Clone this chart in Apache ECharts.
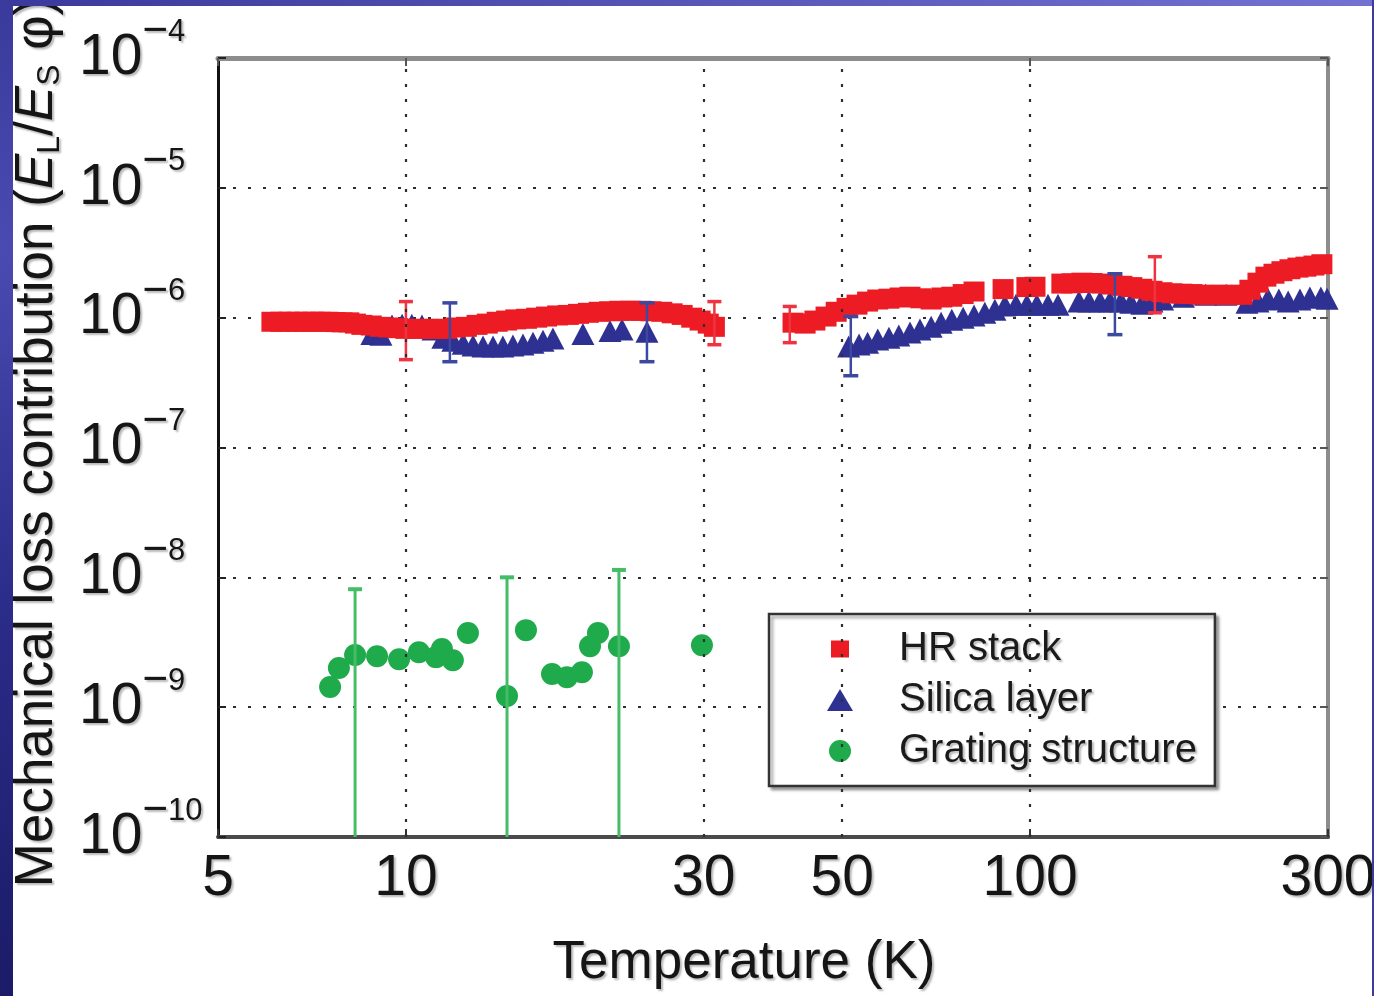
<!DOCTYPE html>
<html><head><meta charset="utf-8">
<script src="https://cdn.jsdelivr.net/npm/echarts@6/dist/echarts.min.js"></script>
<style>
html,body{margin:0;padding:0;background:#fff;overflow:hidden}
#chart{position:absolute;left:0;top:0;width:1374px;height:996px}
#lstrip{position:absolute;left:0;top:0;width:13px;height:996px;background:linear-gradient(to bottom,#3a3a9c 0%,#4a4ab2 25%,#2c2c8a 60%,#1b1b68 100%);z-index:5}
#tstrip{position:absolute;left:0;top:0;width:1374px;height:6px;background:linear-gradient(to right,#3a3a9c,#7272d2);z-index:5}
#rstrip{position:absolute;right:0;top:0;width:2px;height:996px;background:#3b3ba0;z-index:5}
</style></head>
<body>
<div id="chart"></div><div id="lstrip"></div><div id="tstrip"></div><div id="rstrip"></div>
<script>
const FONT = "'Liberation Sans', Arial, Helvetica, sans-serif";
const xTickLabels = [5, 10, 30, 50, 100, 300];
const xGridValues = [10, 30, 50, 100];
const yExponents = [-10, -9, -8, -7, -6, -5, -4];

// HR stack
const hrT = [6.1,6.3,6.5,6.7,6.9,7.1,7.3,7.5,7.7,7.9,8.1,8.3,8.5,8.8,9.1,9.4,9.7,10.0,10.4,10.8,11.2,11.6,12.0,12.5,13.0,13.5,14.0,14.5,15.0,15.6,16.2,16.8,17.5,18.2,18.9,19.6,20.4,21.2,22.0,22.9,23.8,24.7,25.7,26.7,27.7,28.7,29.6,30.5,31.2,
  41.7,43.6,45.2,47.1,48.9,50.9,52.8,54.9,57.0,59.4,61.9,64.2,66.8,69.4,72.2,74.9,78.1,81.3,90.5,98.8,101.8,112.4,116.7,121,125.6,130.3,135.2,140.3,145.5,151,156.7,162.6,168.7,175,181.6,188.4,195.5,202.8,210.5,218.4,224.9,231.7,238.6,245.8,253.1,260.7,268.5,276.5,284.8,293.3];
const hrV = [9.3e-7,9.3e-7,9.3e-7,9.3e-7,9.3e-7,9.3e-7,9.3e-7,9.3e-7,9.25e-7,9.2e-7,9.2e-7,9.0e-7,8.8e-7,8.7e-7,8.5e-7,8.4e-7,8.3e-7,8.2e-7,8.2e-7,8.2e-7,8.2e-7,8.2e-7,8.4e-7,8.5e-7,8.8e-7,9.0e-7,9.3e-7,9.5e-7,9.7e-7,9.8e-7,1.0e-6,1.02e-6,1.04e-6,1.05e-6,1.07e-6,1.09e-6,1.11e-6,1.12e-6,1.13e-6,1.13e-6,1.13e-6,1.12e-6,1.11e-6,1.08e-6,1.05e-6,1.0e-6,9.5e-7,9.0e-7,8.5e-7,
  9.15e-7,9.0e-7,9.5e-7,1.02e-6,1.11e-6,1.19e-6,1.26e-6,1.33e-6,1.38e-6,1.40e-6,1.43e-6,1.45e-6,1.41e-6,1.38e-6,1.43e-6,1.45e-6,1.52e-6,1.59e-6,1.66e-6,1.72e-6,1.73e-6,1.83e-6,1.84e-6,1.86e-6,1.85e-6,1.83e-6,1.80e-6,1.76e-6,1.72e-6,1.67e-6,1.61e-6,1.57e-6,1.54e-6,1.53e-6,1.52e-6,1.50e-6,1.50e-6,1.50e-6,1.50e-6,1.50e-6,1.64e-6,1.86e-6,2.07e-6,2.18e-6,2.28e-6,2.36e-6,2.43e-6,2.47e-6,2.52e-6,2.58e-6];

// Silica layer
const siT = [8.82,9.12,9.50,9.86,10.22,10.61,11.05,11.46,11.89,12.35,12.81,13.29,13.79,14.30,14.84,15.40,15.98,16.58,17.20,19.21,21.23,22.19,24.33,
  51.2,53.2,54.9,57.0,59.4,61.6,64.2,66.6,69.4,72.0,74.9,78.1,81.3,84.6,87.8,91.1,94.9,98.8,102.5,106.8,110.8,119.7,124.2,129.4,134.2,139.8,145,151,156.7,163,176,191,206,222.5,231.7,240.4,250.3,259,270.5,280.6,292.2,299];
const siV = [7.5e-7,7.4e-7,8.7e-7,8.8e-7,8.8e-7,8.7e-7,8.1e-7,7.0e-7,6.65e-7,6.3e-7,6.1e-7,6.0e-7,6.0e-7,6.0e-7,6.1e-7,6.2e-7,6.4e-7,6.65e-7,6.9e-7,7.5e-7,7.9e-7,8.1e-7,7.8e-7,
  6.0e-7,6.2e-7,6.4e-7,6.8e-7,7.0e-7,7.3e-7,7.7e-7,8.1e-7,8.5e-7,9.15e-7,9.65e-7,1.0e-6,1.04e-6,1.09e-6,1.15e-6,1.24e-6,1.26e-6,1.26e-6,1.26e-6,1.26e-6,1.26e-6,1.33e-6,1.33e-6,1.33e-6,1.33e-6,1.33e-6,1.30e-6,1.28e-6,1.33e-6,1.38e-6,1.45e-6,1.50e-6,1.50e-6,1.30e-6,1.33e-6,1.40e-6,1.38e-6,1.33e-6,1.38e-6,1.43e-6,1.43e-6,1.40e-6];

// Grating structure
const grT = [7.56,7.81,8.29,8.99,9.75,10.49,11.17,11.42,11.89,12.57,14.52,15.57,17.14,18.11,19.14,19.72,20.31,21.94,29.8];
const grV = [1.43e-9,2.0e-9,2.52e-9,2.47e-9,2.34e-9,2.65e-9,2.43e-9,2.80e-9,2.30e-9,3.72e-9,1.22e-9,3.92e-9,1.80e-9,1.70e-9,1.86e-9,2.95e-9,3.72e-9,2.95e-9,3.0e-9];

// Error bars
const hrErrT = [10.0, 31.2, 41.2, 158.4];
const hrErrLo = [4.75e-7, 6.19e-7, 6.42e-7, 1.09e-6];
const hrErrHi = [1.33e-6, 1.33e-6, 1.22e-6, 2.95e-6];
const siErrT = [11.76, 24.33, 51.6, 136.7];
const siErrLo = [4.58e-7, 4.58e-7, 3.57e-7, 7.4e-7];
const siErrHi = [1.30e-6, 1.30e-6, 1.02e-6, 2.18e-6];
const grErrT = [8.29, 14.52, 21.94];
const grErrLo = [1e-10, 1e-10, 1e-10];
const grErrHi = [8.1e-9, 1.0e-8, 1.14e-8];

const pairs = (a, b) => a.map((t, i) => [t, b[i]]);
const triples = (a, b, c) => a.map((t, i) => [t, b[i], c[i]]);

const SH = {textShadowColor: 'rgba(0,0,0,0.28)', textShadowOffsetX: 2, textShadowOffsetY: 2, textShadowBlur: 2};
const gridLine = {type: [3, 12], color: '#2e2e2e', width: 2.2};

function errBar(color, cap, lw, lowCap) {
  return function (params, api) {
    const x = api.value(0);
    const lo = api.coord([x, api.value(1)]);
    const hi = api.coord([x, api.value(2)]);
    const ch = [
      {type: 'line', shape: {x1: lo[0], y1: lo[1], x2: hi[0], y2: hi[1]}, style: {stroke: color, lineWidth: lw}},
      {type: 'line', shape: {x1: hi[0] - cap / 2, y1: hi[1], x2: hi[0] + cap / 2, y2: hi[1]}, style: {stroke: color, lineWidth: lw + 1}}
    ];
    if (lowCap) ch.push({type: 'line', shape: {x1: lo[0] - cap / 2, y1: lo[1], x2: lo[0] + cap / 2, y2: lo[1]}, style: {stroke: color, lineWidth: lw + 1}});
    return {type: 'group', children: ch};
  };
}

const chart = echarts.init(document.getElementById('chart'), null, {renderer: 'canvas'});
const option = {
  animation: false,
  backgroundColor: '#ffffff',
  grid: {left: 218, top: 58, width: 1110, height: 779, containLabel: false, outerBoundsMode: 'none'},
  xAxis: [
    {type: 'log', min: 5, max: 300, position: 'bottom',
     axisLine: {onZero: false, lineStyle: {color: '#4a4a4a', width: 4}},
     axisTick: {inside: true, length: 8, lineStyle: {color: '#333', width: 2}},
     axisLabel: {show: false}, splitLine: {show: false},
     name: 'Temperature (K)', nameLocation: 'middle', nameGap: 96,
     nameTextStyle: Object.assign({fontSize: 53, lineHeight: 60, fontFamily: FONT, color: '#151515', padding: [0, 58, 0, 0]}, SH)},
    {type: 'log', min: 5, max: 300, position: 'top',
     axisLine: {onZero: false, lineStyle: {color: '#8c8c8c', width: 5}},
     axisTick: {inside: true, length: 8, lineStyle: {color: '#555', width: 2}},
     axisLabel: {show: false}, splitLine: {show: false}}
  ],
  yAxis: [
    {type: 'log', min: 1e-10, max: 1e-4, position: 'left',
     axisLine: {onZero: false, lineStyle: {color: '#111', width: 3}},
     axisTick: {inside: true, length: 8, lineStyle: {color: '#222', width: 2}},
     splitLine: {show: true, lineStyle: gridLine},
     axisLabel: {
       align: 'left', margin: 139,
       formatter: function (v) {
         const e = Math.round(Math.log10(v));
         if (yExponents.indexOf(e) < 0) return '';
         return '{b|10}{m|\u2212}{s|' + Math.abs(e) + '}';
       },
       rich: {
         b: Object.assign({fontSize: 57, lineHeight: 57, fontFamily: FONT, color: '#151515', verticalAlign: 'middle'}, SH),
         m: Object.assign({fontSize: 44, lineHeight: 44, fontFamily: FONT, color: '#151515', verticalAlign: 'middle', padding: [0, 0, 52, 0]}, SH),
         s: Object.assign({fontSize: 31, lineHeight: 31, fontFamily: FONT, color: '#151515', verticalAlign: 'middle', padding: [0, 0, 52, 0]}, SH)
       }
     },
     name: '{n|Mechanical loss contribution (}{i|E}{sb|L}{n|/}{i|E}{sb|S}{n| \u03c6)}',
     nameLocation: 'middle', nameGap: 151,
     nameTextStyle: {
       padding: [0, 0, 0, 10],
       rich: {
         n: Object.assign({fontSize: 53, lineHeight: 60, fontFamily: FONT, color: '#151515', verticalAlign: 'middle'}, SH),
         i: Object.assign({fontSize: 53, lineHeight: 60, fontFamily: FONT, fontStyle: 'italic', color: '#151515', verticalAlign: 'middle'}, SH),
         sb: Object.assign({fontSize: 32, lineHeight: 34, fontFamily: FONT, color: '#151515', verticalAlign: 'middle', padding: [26, 0, 0, 0]}, SH)
       }
     }},
    {type: 'log', min: 1e-10, max: 1e-4, position: 'right',
     axisLine: {onZero: false, lineStyle: {color: '#8c8c8c', width: 4}},
     axisTick: {inside: true, length: 8, lineStyle: {color: '#555', width: 2}},
     axisLabel: {show: false}, splitLine: {show: false}}
  ],
  legend: {
    orient: 'vertical', left: 769, top: 614, padding: [15, 18, 15, 58], itemGap: 11,
    itemWidth: 26, itemHeight: 22,
    backgroundColor: '#ffffff', borderColor: '#333333', borderWidth: 2.5,
    shadowColor: 'rgba(0,0,0,0.35)', shadowBlur: 3, shadowOffsetX: 3, shadowOffsetY: 3,
    textStyle: Object.assign({fontSize: 40, lineHeight: 40, fontFamily: FONT, color: '#1a1a1a', padding: [0, 0, 0, 41]}, SH),
    data: [
      {name: 'HR stack', icon: 'path://M0,0h0.05v0.05h-0.05z M25.95,21.95h0.05v0.05h-0.05z M4,2.5h18v17h-18z'},
      {name: 'Silica layer', icon: 'triangle'},
      {name: 'Grating structure', icon: 'circle'}
    ]
  },
  series: [
    {type: 'scatter', name: 'grid', data: [], z: 1, silent: true,
     markLine: {silent: true, symbol: ['none', 'none'], label: {show: false}, lineStyle: gridLine,
                data: xGridValues.map(v => ({xAxis: v}))}},
    {type: 'scatter', name: 'Silica layer', symbol: 'triangle', symbolSize: [23, 22],
     itemStyle: {color: '#2e3192', opacity: 1}, data: pairs(siT, siV), z: 3},
    {type: 'scatter', name: 'HR stack', symbol: 'rect', symbolSize: [21, 20],
     itemStyle: {color: '#ed1c24', opacity: 1}, data: pairs(hrT, hrV), z: 3},
    {type: 'scatter', name: 'Grating structure', symbol: 'circle', symbolSize: 22,
     itemStyle: {color: '#1faa4b', opacity: 1}, data: pairs(grT, grV), z: 3},
    {type: 'custom', name: 'siErr', renderItem: errBar('#3b4aa0', 15, 2.5, true),
     encode: {x: 0, y: [1, 2]}, data: triples(siErrT, siErrLo, siErrHi), z: 4},
    {type: 'custom', name: 'hrErr', renderItem: errBar('#ef3340', 14, 2.5, true),
     encode: {x: 0, y: [1, 2]}, data: triples(hrErrT, hrErrLo, hrErrHi), z: 4},
    {type: 'custom', name: 'grErr', renderItem: errBar('#45bd66', 14, 3, false), clip: true,
     encode: {x: 0, y: [1, 2]}, data: triples(grErrT, grErrLo, grErrHi), z: 4}
  ]
};
chart.setOption(option);

const yBase = chart.convertToPixel({yAxisIndex: 0}, 1e-10);
chart.setOption({
  graphic: xTickLabels.map(v => ({
    type: 'text',
    x: chart.convertToPixel({xAxisIndex: 0}, v),
    y: yBase + 42,
    silent: true,
    style: Object.assign({text: String(v), fontSize: 57, fontFamily: FONT, fill: '#151515', align: 'center', verticalAlign: 'middle'}, SH)
  }))
});
</script>
</body></html>
